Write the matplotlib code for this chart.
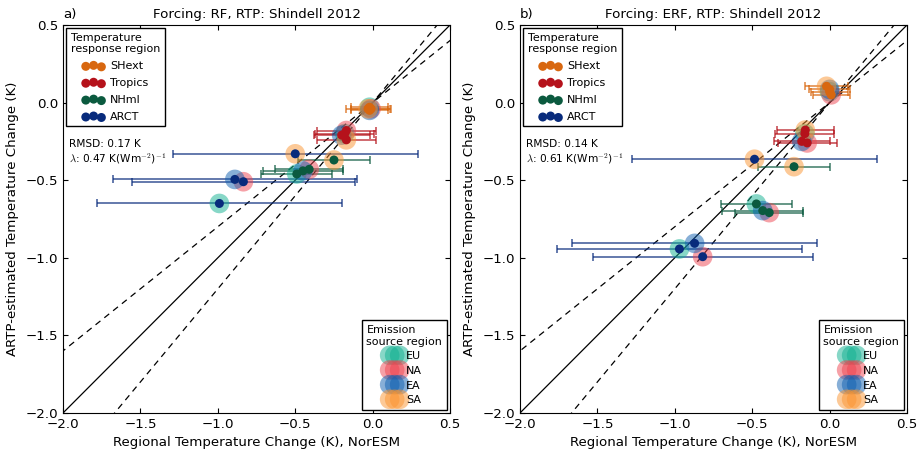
import numpy as np
import matplotlib
matplotlib.use("Agg")
import matplotlib.pyplot as plt

# emission source regions (halo colour), order used in every list below
emis_names = ["EU", "NA", "EA", "SA"]
emis_cols = ["#10b090", "#ee4450", "#1060b0", "#fb9430"]

# temperature response regions (dot / error bar colour)
resp_names = ["SHext", "Tropics", "NHml", "ARCT"]
resp_cols = ["#d8670f", "#b5121b", "#0b5a3f", "#082b7c"]

# panel a) RF
a_x = {"SHext": [-0.02, -0.01, -0.02, -0.03],
       "Tropics": [-0.18, -0.17, -0.20, -0.17],
       "NHml": [-0.49, -0.41, -0.45, -0.25],
       "ARCT": [-0.99, -0.835, -0.89, -0.50]}
a_y = {"SHext": [-0.03, -0.04, -0.05, -0.04],
       "Tropics": [-0.20, -0.18, -0.21, -0.24],
       "NHml": [-0.46, -0.43, -0.44, -0.37],
       "ARCT": [-0.65, -0.51, -0.495, -0.33]}
a_err = {"SHext": [0.12, 0.13, 0.12, 0.145],
         "Tropics": [0.19, 0.19, 0.18, 0.19],
         "NHml": [0.23, 0.22, 0.26, 0.23],
         "ARCT": [0.79, 0.72, 0.79, 0.79]}

# panel b) ERF
b_x = {"SHext": [0.00, 0.01, 0.00, -0.02],
       "Tropics": [-0.16, -0.145, -0.18, -0.157],
       "NHml": [-0.473, -0.39, -0.432, -0.23],
       "ARCT": [-0.97, -0.82, -0.872, -0.485]}
b_y = {"SHext": [0.07, 0.05, 0.085, 0.105],
       "Tropics": [-0.20, -0.26, -0.25, -0.177],
       "NHml": [-0.653, -0.709, -0.696, -0.413],
       "ARCT": [-0.943, -0.993, -0.907, -0.365]}
b_err = {"SHext": [0.12, 0.12, 0.13, 0.14],
         "Tropics": [0.19, 0.19, 0.18, 0.185],
         "NHml": [0.23, 0.22, 0.26, 0.23],
         "ARCT": [0.79, 0.71, 0.79, 0.79]}

rmsd = ["0.17", "0.14"]
lam = ["0.47", "0.61"]
titles = ["Forcing: RF, RTP: Shindell 2012", "Forcing: ERF, RTP: Shindell 2012"]
letters = ["a)", "b)"]
ticks = [-2.0, -1.5, -1.0, -0.5, 0.0, 0.5]

plt.rcParams["xtick.direction"] = "in"
plt.rcParams["ytick.direction"] = "in"
plt.rcParams["xtick.top"] = True
plt.rcParams["ytick.right"] = True
plt.rcParams["font.size"] = 9.6
plt.rcParams["mathtext.fontset"] = "cm"

fig = plt.figure(figsize=(9.2, 4.51), dpi=100)
ax1 = fig.add_axes([0.0685, 0.0843, 0.4207, 0.8603])
ax2 = fig.add_axes([0.5652, 0.0843, 0.4207, 0.8603])

HALO = 200
DOT = 42


def panel(ax, xs, ys, errs, k):
    line = np.array([-2.5, 1.0])
    ax.plot(line, line, color="k", lw=0.9, zorder=1)
    ax.plot(line, 0.8 * line, color="k", lw=0.9, ls=(0, (5, 4)), zorder=1)
    ax.plot(line, 1.2 * line, color="k", lw=0.9, ls=(0, (5, 4)), zorder=1)
    for r, rc in zip(resp_names, resp_cols):
        for i in range(4):
            ax.errorbar(xs[r][i], ys[r][i], xerr=errs[r][i], fmt="none",
                        ecolor=rc, elinewidth=1.1, capsize=3, capthick=1.1,
                        alpha=0.8, zorder=2)
    for r, rc in zip(resp_names, resp_cols):
        for i in range(4):
            ax.scatter(xs[r][i], ys[r][i], s=HALO, color=emis_cols[i],
                       alpha=0.5, edgecolors="none", zorder=3)
            ax.scatter(xs[r][i], ys[r][i], s=DOT, color=rc,
                       edgecolors="none", zorder=4)
    ax.set_xlim(-2.0, 0.5)
    ax.set_ylim(-2.0, 0.5)
    ax.set_xticks(ticks)
    ax.set_yticks(ticks)
    ax.set_xlabel("Regional Temperature Change (K), NorESM")
    ax.set_ylabel("ARTP-estimated Temperature Change (K)", labelpad=5)
    ax.set_title(titles[k], fontsize=9.6, pad=5)
    ax.set_title(letters[k], loc="left", fontsize=9.6, pad=5)

    # legends
    h1 = [ax.scatter([], [], s=DOT, color=c, edgecolors="none", label=n)
          for n, c in zip(resp_names, resp_cols)]
    leg1 = ax.legend(handles=h1, loc="upper left", scatterpoints=3,
                     fontsize=8, title="Temperature\nresponse region",
                     title_fontsize=8, fancybox=False, framealpha=1,
                     edgecolor="k", borderaxespad=0.3, handletextpad=0.5,
                     labelspacing=0.62)
    leg1.get_frame().set_linewidth(1.0)
    ax.add_artist(leg1)
    h2 = [ax.scatter([], [], s=HALO, color=c, alpha=0.5, edgecolors="none",
                     label=n) for n, c in zip(emis_names, emis_cols)]
    leg2 = ax.legend(handles=h2, loc="lower right", scatterpoints=3,
                     scatteryoffsets=[0.5], fontsize=8,
                     title="Emission\nsource region", title_fontsize=8,
                     fancybox=False, framealpha=1, edgecolor="k",
                     borderaxespad=0.3, handletextpad=0.3, labelspacing=0.42,
                     handlelength=1.5)
    leg2.get_frame().set_linewidth(1.0)

    ax.text(0.016, 0.692, "RMSD: " + rmsd[k] + " K", transform=ax.transAxes,
            fontsize=7.6, va="center", ha="left")
    ax.text(0.016, 0.655, r"$\lambda$: " + lam[k] + r" K(Wm$^{-2}$)$^{-1}$",
            transform=ax.transAxes, fontsize=7.6, va="center", ha="left")


panel(ax1, a_x, a_y, a_err, 0)
panel(ax2, b_x, b_y, b_err, 1)

fig.savefig("out.png", dpi=100)
